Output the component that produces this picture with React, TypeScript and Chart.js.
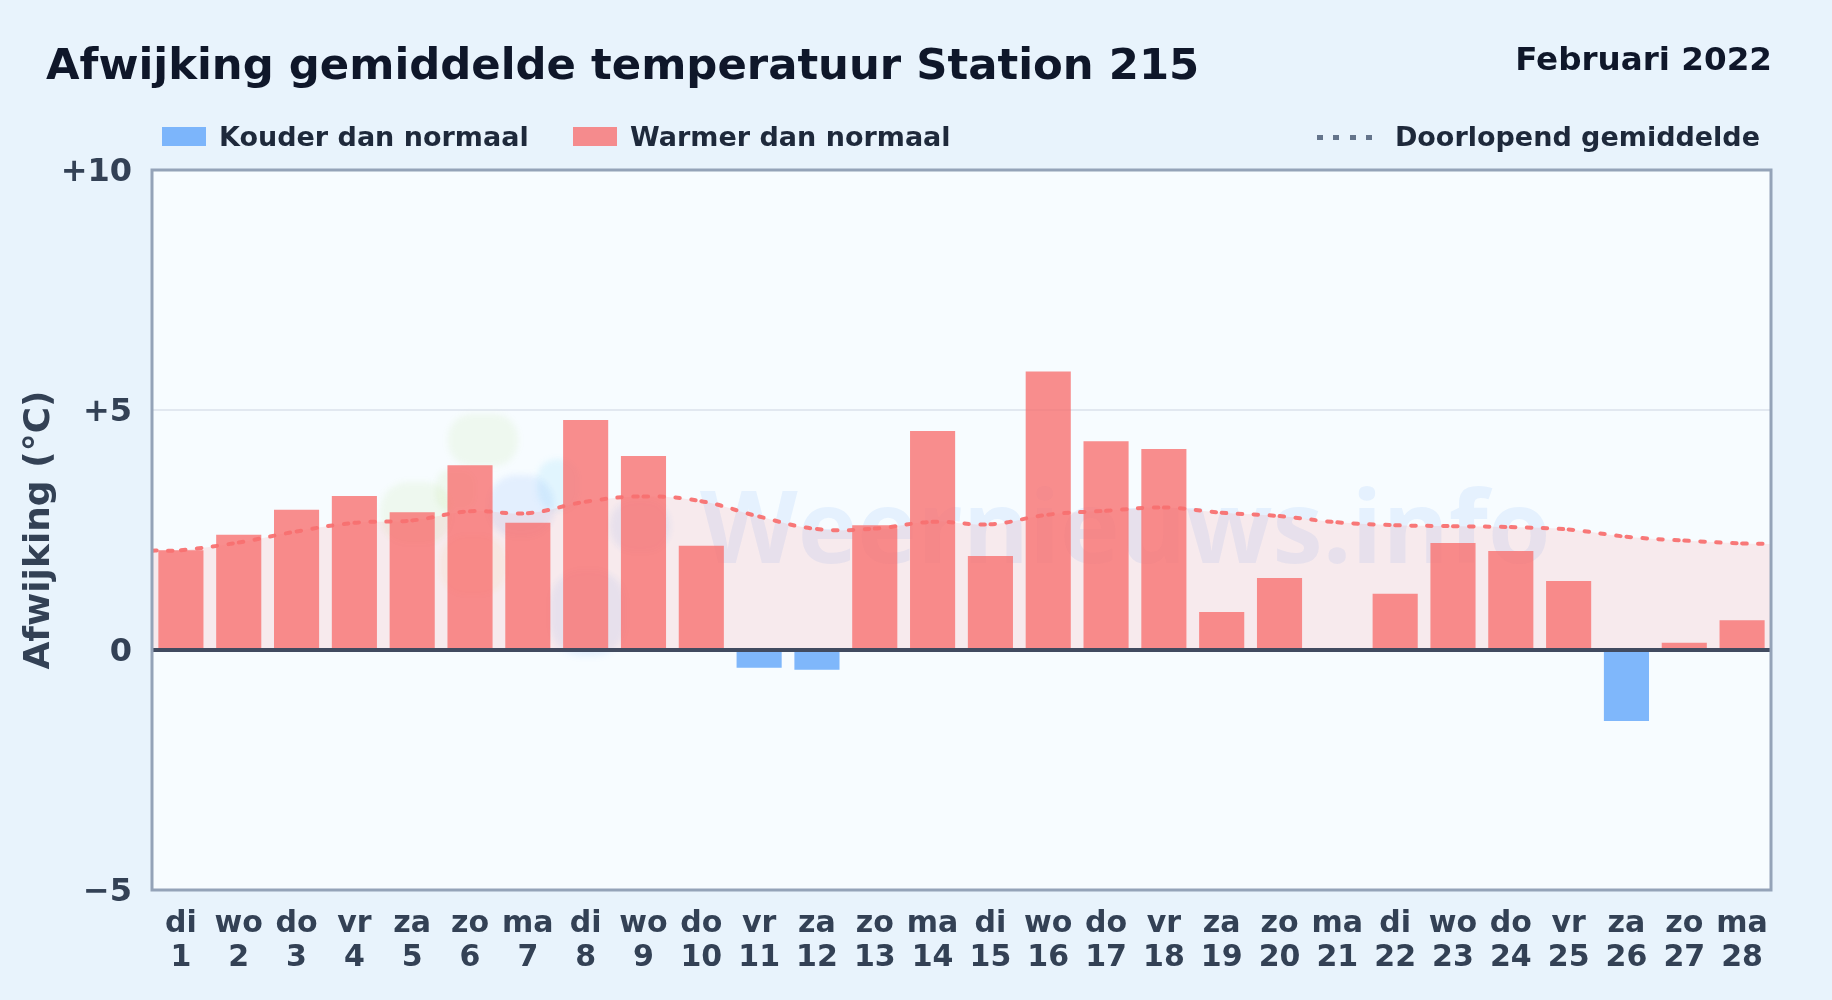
import React, { useEffect, useRef } from "react";
import { Chart, registerables } from "chart.js";

Chart.register(...registerables);

const FONT = '"DejaVu Sans", sans-serif';
const titleText = "Afwijking gemiddelde temperatuur Station 215";
const periodText = "Februari 2022";
const legendCold = "Kouder dan normaal";
const legendWarm = "Warmer dan normaal";
const legendMean = "Doorlopend gemiddelde";
const axisTitle = "Afwijking (°C)";
const watermarkText = "Weernieuws.info";

const weekdays = ["di","wo","do","vr","za","zo","ma","di","wo","do","vr","za","zo","ma","di","wo","do","vr","za","zo","ma","di","wo","do","vr","za","zo","ma"];
const dayNumbers = ["1","2","3","4","5","6","7","8","9","10","11","12","13","14","15","16","17","18","19","20","21","22","23","24","25","26","27","28"];
const deviations = [2.08,2.40,2.92,3.21,2.87,3.85,2.65,4.79,4.04,2.17,-0.37,-0.41,2.60,4.56,1.96,5.80,4.35,4.19,0.79,1.50,0,1.17,2.23,2.06,1.44,-1.48,0.15,0.62];
const runningMean = [2.08,2.24,2.47,2.65,2.70,2.89,2.85,3.09,3.20,3.10,2.78,2.52,2.53,2.67,2.62,2.82,2.90,2.97,2.86,2.79,2.66,2.60,2.58,2.56,2.51,2.36,2.28,2.22];
const meanPositions = [1,2,3,4,5,6,7,8,9,10,11,12,13,14,15,16,17,18,19,20,21,22,23,24,25,26,27,28];
const meanEdgeLeft = { x: 0.5, y: 2.07 };
const meanEdgeRight = { x: 28.5, y: 2.21 };

const COLD = "rgba(96,165,250,0.8)";
const WARM = "rgba(248,113,113,0.8)";

const meanPoints = [
  meanEdgeLeft,
  ...meanPositions.map((x, i) => ({ x, y: runningMean[i] })),
  meanEdgeRight,
];

const backdrop = {
  id: "backdrop",
  beforeDatasetsDraw(chart: any) {
    const { ctx, chartArea: a } = chart;
    ctx.save();
    ctx.beginPath();
    ctx.rect(a.left, a.top, a.right - a.left, a.bottom - a.top);
    ctx.clip();
    ctx.filter = "blur(3px)";
    const blobs: [number, number, number, number, number, string][] = [
      [448, 414, 70, 52, 24, "rgba(132,204,22,0.07)"],
      [380, 482, 72, 62, 28, "rgba(132,204,22,0.07)"],
      [436, 470, 40, 40, 14, "rgba(132,204,22,0.07)"],
      [440, 535, 66, 60, 26, "rgba(251,191,36,0.07)"],
      [488, 475, 66, 62, 28, "rgba(59,130,246,0.1)"],
      [537, 459, 42, 52, 20, "rgba(56,189,248,0.11)"],
      [610, 500, 60, 52, 24, "rgba(59,130,246,0.09)"],
      [550, 570, 76, 86, 32, "rgba(59,130,246,0.09)"],
    ];
    for (const [x, y, w, h, r, c] of blobs) {
      ctx.fillStyle = c;
      ctx.beginPath();
      ctx.roundRect(x, y, w, h, r);
      ctx.fill();
    }
    ctx.filter = "none";
    ctx.fillStyle = "rgba(59,130,246,0.09)";
    ctx.font = '700 101px "Open Sans", sans-serif';
    ctx.textAlign = "left";
    ctx.textBaseline = "alphabetic";
    ctx.fillText(watermarkText, 700, 563);
    ctx.restore();
  },
  afterDatasetsDraw(chart: any) {
    const { ctx, chartArea: a, scales } = chart;
    const zero = scales.y.getPixelForValue(0);
    ctx.save();
    ctx.strokeStyle = "#414b60";
    ctx.lineWidth = 4;
    ctx.beginPath();
    ctx.moveTo(a.left, zero);
    ctx.lineTo(a.right, zero);
    ctx.stroke();
    ctx.strokeStyle = "#94a3b8";
    ctx.lineWidth = 3;
    ctx.strokeRect(a.left, a.top, a.right - a.left, a.bottom - a.top);
    ctx.restore();
  },
};

const absolute = (style: React.CSSProperties): React.CSSProperties => ({
  position: "absolute",
  whiteSpace: "nowrap",
  fontFamily: FONT,
  fontWeight: 700,
  ...style,
});

export default function App() {
  const ref = useRef<HTMLCanvasElement | null>(null);

  useEffect(() => {
    document.body.style.margin = "0";
    const chart = new Chart(ref.current as HTMLCanvasElement, {
      type: "bar",
      data: {
        labels: weekdays.map((d, i) => [d, dayNumbers[i]]),
        datasets: [
          {
            type: "line",
            label: legendMean,
            xAxisID: "x2",
            order: 1,
            data: meanPoints,
            borderColor: "rgba(248,113,113,0.95)",
            borderWidth: 4,
            borderDash: [4.5, 11.5],
            borderCapStyle: "round",
            tension: 0.4,
            pointRadius: 0,
            fill: false,
            segment: {
              borderDashOffset: (c: any) => (c.p0DataIndex % 2 ? 0 : 0.0001),
            },
          } as any,
          {
            type: "line",
            label: "vulling",
            xAxisID: "x2",
            order: 3,
            data: meanPoints,
            borderWidth: 0,
            backgroundColor: "rgba(248,113,113,0.13)",
            tension: 0.4,
            pointRadius: 0,
            fill: "origin",
          } as any,
          {
            type: "bar",
            label: legendWarm,
            order: 2,
            data: deviations,
            backgroundColor: (c: any) => (c.raw < 0 ? COLD : WARM),
            grouped: false,
            barPercentage: 0.78,
            categoryPercentage: 1,
          } as any,
        ],
      },
      options: {
        responsive: false,
        animation: false,
        events: [],
        layout: { padding: { left: 18, right: 61, top: 170, bottom: 0 } },
        plugins: { legend: { display: false }, title: { display: false }, tooltip: { enabled: false } },
        scales: {
          x: {
            type: "category",
            offset: true,
            border: { display: false },
            grid: { display: false },
            ticks: {
              autoSkip: false,
              maxRotation: 0,
              minRotation: 0,
              padding: 9,
              color: "#334155",
              font: { family: FONT, weight: "bold", size: 30, lineHeight: 1.13 },
            },
            afterFit: (s: any) => { s.height = 110; },
          },
          x2: { type: "linear", display: false, offset: false, min: 0.5, max: 28.5 },
          y: {
            min: -5,
            max: 10,
            border: { display: false },
            grid: {
              drawTicks: false,
              color: (c: any) => (c.tick.value === 5 ? "#e2e8f0" : "rgba(0,0,0,0)"),
              lineWidth: 2,
            },
            ticks: {
              stepSize: 5,
              padding: 20,
              labelOffset: 3,
              color: "#334155",
              font: { family: FONT, weight: "bold", size: 32 },
              callback: (v: any) => (v > 0 ? `+${v}` : v < 0 ? `\u2212${Math.abs(v)}` : "0"),
            },
            title: {
              display: true,
              text: axisTitle,
              color: "#334155",
              font: { family: FONT, weight: "bold", size: 36 },
              padding: 0,
            },
            afterFit: (s: any) => { s.width = 134; },
          },
        },
      },
      plugins: [backdrop],
    } as any);
    return () => chart.destroy();
  }, []);

  return (
    <div style={{ position: "fixed", left: 0, top: 0, width: 1832, height: 1000, background: "#e8f3fc", overflow: "hidden" }}>
      <div style={{ position: "absolute", left: 152, top: 170, width: 1619, height: 720, background: "#f7fcff" }} />
      <canvas ref={ref} width={1832} height={1000} style={{ position: "absolute", left: 0, top: 0, display: "block" }} />
      <div style={absolute({ left: 46, top: 37, fontSize: 43.35, lineHeight: "54px", color: "#0f172a" })}>{titleText}</div>
      <div style={absolute({ right: 60, top: 39, fontSize: 32.6, lineHeight: "40px", color: "#0f172a" })}>{periodText}</div>
      <div style={{ position: "absolute", left: 162, top: 127, width: 44, height: 19, background: COLD }} />
      <div style={absolute({ left: 219, top: 120, fontSize: 27, lineHeight: "34px", color: "#1e293b" })}>{legendCold}</div>
      <div style={{ position: "absolute", left: 573, top: 127, width: 44, height: 19, background: WARM }} />
      <div style={absolute({ left: 630, top: 120, fontSize: 27, lineHeight: "34px", color: "#1e293b" })}>{legendWarm}</div>
      <div style={{ position: "absolute", left: 1317, top: 135, width: 56, height: 5, background: "repeating-linear-gradient(90deg,#64748b 0 6px,transparent 6px 16.5px)" }} />
      <div style={absolute({ right: 72, top: 120, fontSize: 27, lineHeight: "34px", color: "#1e293b" })}>{legendMean}</div>
    </div>
  );
}
